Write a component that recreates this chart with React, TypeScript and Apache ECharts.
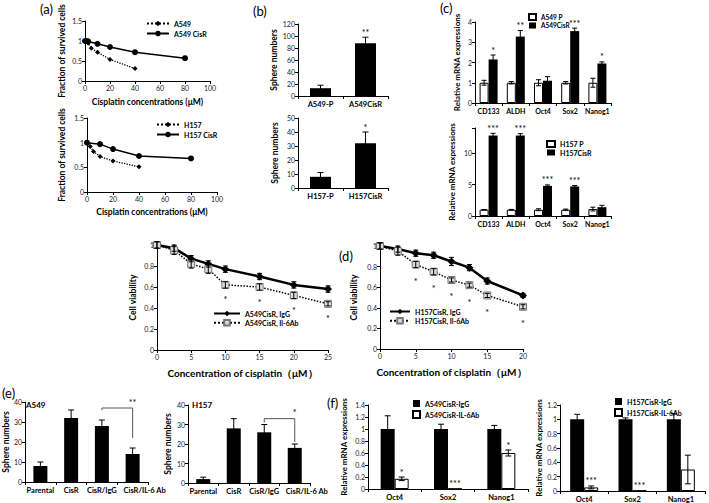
import React, { useEffect, useRef } from "react";
import * as echarts from "echarts";

const FONT = "Lato, 'Liberation Sans', sans-serif";

// ---------- (a) survival curves ----------
const aA549X = [0, 2.5, 5, 10, 20, 40];
const aA549Y = [1.0, 0.95, 0.82, 0.72, 0.54, 0.31];
const aA549RX = [0, 1, 2.5, 10, 20, 40, 80];
const aA549RY = [1.0, 1.0, 0.99, 0.93, 0.85, 0.72, 0.57];
const aH157X = [0, 2.5, 5, 10, 20, 40];
const aH157Y = [1.0, 0.92, 0.82, 0.72, 0.63, 0.51];
const aH157RX = [0, 10, 20, 40, 80];
const aH157RY = [1.0, 0.97, 0.87, 0.73, 0.68];

// ---------- (b) sphere numbers ----------
const bCatsA = ["A549-P", "A549CisR"];
const bValsA = [13, 88];
const bErrA = [5, 10];
const bSigA = ["", "**"];
const bCatsH = ["H157-P", "H157CisR"];
const bValsH = [8, 32];
const bErrH = [3, 8];
const bSigH = ["", "*"];

// ---------- (c) relative mRNA ----------
const cCats = ["CD133", "ALDH", "Oct4", "Sox2", "Nanog1"];
const cA549P = [1, 1, 1, 1, 1];
const cA549PErr = [0.12, 0.06, 0.15, 0.06, 0.22];
const cA549R = [2.15, 3.28, 1.1, 3.55, 1.95];
const cA549RErr = [0.22, 0.3, 0.2, 0.15, 0.08];
const cA549Sig = ["*", "**", "", "***", "*"];
const cH157P = [1, 1, 1, 1, 1.1];
const cH157PErr = [0.02, 0.05, 0.15, 0.1, 0.3];
const cH157R = [12.8, 12.8, 4.8, 4.7, 1.4];
const cH157RErr = [0.35, 0.3, 0.15, 0.15, 0.3];
const cH157Sig = ["***", "***", "***", "***", ""];

// ---------- (d) cell viability ----------
const dXA = [0, 2.5, 5, 7.5, 10, 15, 20, 25];
const dIgGA = [1.0, 0.97, 0.87, 0.82, 0.77, 0.7, 0.62, 0.58];
const dIgGAErr = [0.03, 0.03, 0.03, 0.03, 0.03, 0.03, 0.03, 0.03];
const dAbA = [1.0, 0.95, 0.82, 0.77, 0.62, 0.6, 0.52, 0.44];
const dAbAErr = [0.03, 0.04, 0.04, 0.04, 0.03, 0.03, 0.03, 0.02];
const dSigA = ["", "", "", "", "*", "*", "*", "*"];
const dXH = [0, 2.5, 5, 7.5, 10, 12.5, 15, 20];
const dIgGH = [1.0, 0.97, 0.93, 0.91, 0.85, 0.79, 0.66, 0.52];
const dIgGHErr = [0.03, 0.03, 0.03, 0.03, 0.04, 0.03, 0.03, 0.02];
const dAbH = [1.0, 0.95, 0.82, 0.75, 0.67, 0.62, 0.52, 0.41];
const dAbHErr = [0.03, 0.04, 0.03, 0.03, 0.02, 0.02, 0.02, 0.02];
const dSigH = ["", "", "*", "*", "*", "*", "*", "*"];

// ---------- (e) sphere numbers ----------
const eCats = ["Parental", "CisR", "CisR/IgG", "CisR/IL-6 Ab"];
const eA549 = [8, 32, 28, 14];
const eA549Err = [2, 4, 3, 3];
const eH157 = [2, 28, 26, 18];
const eH157Err = [1, 5, 4, 2];
// bracket: [fromCat, top, toCat, leftEnd, rightEnd]
const eBracketA = [2, 37, 3, 36, 22];
const eBracketH = [2, 33, 3, 31, 21];
const eBracketSigA = "**";
const eBracketSigH = "*";

// ---------- (f) relative mRNA ----------
const fCats = ["Oct4", "Sox2", "Nanog1"];
const fAIgG = [1, 1, 1];
const fAIgGErr = [0.22, 0.08, 0.06];
const fAAb = [0.17, 0.005, 0.6];
const fAAbErr = [0.03, 0, 0.05];
const fASig = ["*", "***", "*"];
const fHIgG = [1, 1, 1];
const fHIgGErr = [0.07, 0.02, 0.08];
const fHAb = [0.05, 0.005, 0.3];
const fHAbErr = [0.02, 0, 0.2];
const fHSig = ["***", "***", ""];

const axisCommon = {
  axisLine: { show: true, lineStyle: { color: "#000", width: 1 } },
  axisTick: { show: true, length: 3, lineStyle: { color: "#000" } },
  splitLine: { show: false },
};
const nameStyle = { color: "#000", fontSize: 8.5, fontWeight: "bold", fontFamily: FONT };
const numLabel = { color: "#222", fontSize: 7, fontFamily: FONT, margin: 3 };
const catLabel = { color: "#000", fontSize: 7.5, fontWeight: "bold", fontFamily: FONT, margin: 4, interval: 0 };

function valX(g: number, max: number, interval: number, name?: string, nameGap = 16, fs = 8.5) {
  return {
    type: "value", gridIndex: g, min: 0, max, interval, ...axisCommon,
    axisLabel: numLabel,
    name, nameLocation: "middle", nameGap,
    nameTextStyle: { ...nameStyle, fontSize: fs },
  };
}
function valY(g: number, max: number, interval: number, name: string, nameGap: number, fmt?: any, fs = 8.5) {
  return {
    type: "value", gridIndex: g, min: 0, max, interval, ...axisCommon,
    axisLabel: fmt ? { ...numLabel, formatter: fmt } : numLabel,
    name, nameLocation: "middle", nameGap, nameRotate: 90,
    nameTextStyle: { ...nameStyle, fontSize: fs },
  };
}
function catX(g: number, cats: any[], fs = 7.5) {
  return {
    type: "category", gridIndex: g, data: cats, ...axisCommon,
    axisTick: { show: true, length: 3, lineStyle: { color: "#000" } },
    axisLabel: { ...catLabel, fontSize: fs },
  };
}

function errSeries(g: number, xs: number[], vals: number[], errs: number[], dx = 0, cap = 3, color = "#000") {
  return {
    type: "custom", xAxisIndex: g, yAxisIndex: g, silent: true, z: 5,
    data: xs.map((x, i) => [x, vals[i], errs[i]]),
    encode: { x: 0, y: 1 },
    renderItem: (params: any, api: any) => {
      const x0 = api.value(0), v = api.value(1), e = api.value(2);
      if (!e) return { type: "group", children: [] };
      const p1 = api.coord([x0, v + e]);
      const p2 = api.coord([x0, v - e]);
      const x = p1[0] + dx;
      const st = { stroke: color, lineWidth: 1 };
      return {
        type: "group",
        children: [
          { type: "line", shape: { x1: x, y1: p1[1], x2: x, y2: p2[1] }, style: st },
          { type: "line", shape: { x1: x - cap, y1: p1[1], x2: x + cap, y2: p1[1] }, style: st },
          { type: "line", shape: { x1: x - cap, y1: p2[1], x2: x + cap, y2: p2[1] }, style: st },
        ],
      };
    },
  };
}

function marks(g: number, xs: number[], ys: number[], labels: string[], dx: number, dy: number, fs = 9) {
  return {
    type: "custom", xAxisIndex: g, yAxisIndex: g, silent: true, z: 6,
    data: xs.map((x, i) => [x, ys[i]]),
    encode: { x: 0, y: 1 },
    renderItem: (params: any, api: any) => {
      const p = api.coord([api.value(0), api.value(1)]);
      return {
        type: "text", x: p[0] + dx, y: p[1] + dy,
        style: {
          text: labels[params.dataIndex], fontSize: fs, fontFamily: FONT, fill: "#000",
          align: "center", verticalAlign: "middle", textAlign: "center", textVerticalAlign: "middle",
        },
      };
    },
  };
}

function bracket(g: number, b: number[], sig: string) {
  return {
    type: "custom", xAxisIndex: g, yAxisIndex: g, silent: true, z: 6,
    data: [b], encode: { x: 0, y: 1 },
    renderItem: (params: any, api: any) => {
      const a = api.coord([api.value(0), api.value(3)]);
      const bb = api.coord([api.value(0), api.value(1)]);
      const c = api.coord([api.value(2), api.value(1)]);
      const d = api.coord([api.value(2), api.value(4)]);
      return {
        type: "group",
        children: [
          { type: "polyline", shape: { points: [a, bb, c, d] }, style: { stroke: "#555", lineWidth: 1, fill: null } },
          {
            type: "text", x: c[0], y: c[1] - 6,
            style: { text: sig, fontSize: 9, fontFamily: FONT, fill: "#000", align: "center", verticalAlign: "middle", textAlign: "center", textVerticalAlign: "middle" },
          },
        ],
      };
    },
  };
}

const idx = (arr: any[]) => arr.map((_, i) => i);
const plus = (a: number[], b: number[]) => a.map((v, i) => v + b[i]);

const blackBar = { color: "#000" };
const whiteBar = { color: "#fff", borderColor: "#000", borderWidth: 1 };

function bar(name: string, g: number, vals: number[], w: number, style: any) {
  return { type: "bar", name, xAxisIndex: g, yAxisIndex: g, data: vals, barWidth: w, barGap: "0%", itemStyle: style, z: 3 };
}

function line(name: string, g: number, xs: number[], ys: number[], opts: any) {
  return { type: "line", name, xAxisIndex: g, yAxisIndex: g, data: xs.map((x, i) => [x, ys[i]]), z: 4, ...opts };
}

const legendText = { color: "#000", fontSize: 7, fontWeight: "bold", fontFamily: FONT };

// last (long) category label of (e) is shifted right, as in the figure
const eAxisData = eCats.map((c, i) => (i === eCats.length - 1 ? { value: c, textStyle: { padding: [0, 0, 0, 24] } } : c));

function buildOption() {
  const grid = [
    { left: 85, top: 21, width: 125, height: 60 },
    { left: 87, top: 118, width: 130, height: 74 },
    { left: 298, top: 24, width: 90, height: 72 },
    { left: 298, top: 118, width: 90, height: 70 },
    { left: 475, top: 22, width: 136, height: 81 },
    { left: 475, top: 128, width: 136, height: 88 },
    { left: 157, top: 245, width: 171, height: 105 },
    { left: 380, top: 246, width: 143, height: 103 },
    { left: 23, top: 402, width: 125, height: 80 },
    { left: 188, top: 405, width: 122, height: 78 },
    { left: 368, top: 405, width: 160, height: 84 },
    { left: 560, top: 405, width: 145, height: 86 },
  ];

  const xAxis = [
    valX(0, 100, 20, "Cisplatin concentrations (μM)", 16),
    valX(1, 100, 20, "Cisplatin concentrations (μM)", 15),
    catX(2, bCatsA),
    catX(3, bCatsH),
    catX(4, cCats, 7),
    catX(5, cCats, 7),
    valX(6, 25, 5, "Concentration of cisplatin（μM）", 18, 10),
    valX(7, 20, 5, "Concentration of cisplatin（μM）", 18, 10),
    catX(8, eAxisData, 7.5),
    catX(9, eAxisData, 7.5),
    catX(10, fCats, 7.5),
    catX(11, fCats, 7.5),
  ];

  const yAxis = [
    valY(0, 1.5, 0.5, "Fraction of survived cells", 19),
    valY(1, 1.5, 0.5, "Fraction of survived cells", 21),
    valY(2, 120, 20, "Sphere numbers", 19),
    valY(3, 50, 10, "Sphere numbers", 19),
    valY(4, 4, 1, "Relative mRNA expressions", 14, undefined, 8),
    valY(5, 14, 5, "Relative mRNA expressions", 19, (v: number) => (v % 5 === 0 ? String(v) : ""), 8),
    valY(6, 1, 0.2, "Cell viability", 20),
    valY(7, 1, 0.2, "Cell viability", 22),
    valY(8, 40, 10, "Sphere numbers", 14),
    valY(9, 40, 10, "Sphere numbers", 14),
    valY(10, 1.4, 0.2, "Relative mRNA expressions", 20, undefined, 8),
    valY(11, 1.2, 0.2, "Relative mRNA expressions", 17, undefined, 8),
  ];

  const dotted = { type: "dotted", width: 1.3, color: "#000" };
  const series: any[] = [
    // (a)
    line("A549", 0, aA549X, aA549Y, { symbol: "diamond", symbolSize: 5, itemStyle: { color: "#000" }, lineStyle: dotted }),
    line("A549 CisR", 0, aA549RX, aA549RY, { symbol: "circle", symbolSize: 6, itemStyle: { color: "#000" }, lineStyle: { width: 1.5, color: "#000" } }),
    line("H157", 1, aH157X, aH157Y, { symbol: "diamond", symbolSize: 5, itemStyle: { color: "#000" }, lineStyle: dotted }),
    line("H157 CisR", 1, aH157RX, aH157RY, { symbol: "circle", symbolSize: 6, itemStyle: { color: "#000" }, lineStyle: { width: 1.5, color: "#000" } }),
    // (b)
    bar("spheresA", 2, bValsA, 21, blackBar),
    errSeries(2, idx(bCatsA), bValsA, bErrA),
    marks(2, idx(bCatsA), plus(bValsA, bErrA), bSigA, 0, -5),
    bar("spheresH", 3, bValsH, 21, blackBar),
    errSeries(3, idx(bCatsH), bValsH, bErrH),
    marks(3, idx(bCatsH), plus(bValsH, bErrH), bSigH, 0, -5),
    // (c)
    bar("A549 P", 4, cA549P, 9, whiteBar),
    bar("A549CisR", 4, cA549R, 9, blackBar),
    errSeries(4, idx(cCats), cA549P, cA549PErr, -4.5, 2.5),
    errSeries(4, idx(cCats), cA549R, cA549RErr, 4.5, 2.5),
    marks(4, idx(cCats), plus(cA549R, cA549RErr), cA549Sig, 4.5, -5),
    bar("H157 P", 5, cH157P, 9, whiteBar),
    bar("H157CisR", 5, cH157R, 9, blackBar),
    errSeries(5, idx(cCats), cH157P, cH157PErr, -4.5, 2.5),
    errSeries(5, idx(cCats), cH157R, cH157RErr, 4.5, 2.5),
    marks(5, idx(cCats), plus(cH157R, cH157RErr), cH157Sig, 4.5, -5),
    // (d)
    errSeries(6, dXA, dIgGA, dIgGAErr, 0, 2.5),
    errSeries(6, dXA, dAbA, dAbAErr, 0, 2.5),
    line("A549CisR, IgG", 6, dXA, dIgGA, { symbol: "diamond", symbolSize: 8, itemStyle: { color: "#000" }, lineStyle: { width: 2.5, color: "#000" } }),
    line("A549CisR, Il-6Ab", 6, dXA, dAbA, { symbol: "rect", symbolSize: 7, itemStyle: { color: "#ddd", borderColor: "#777", borderWidth: 1 }, lineStyle: { type: "dotted", width: 1.5, color: "#000" } }),
    marks(6, dXA, dAbA, dSigA, 0, 15),
    errSeries(7, dXH, dIgGH, dIgGHErr, 0, 2.5),
    errSeries(7, dXH, dAbH, dAbHErr, 0, 2.5),
    line("H157CisR, IgG", 7, dXH, dIgGH, { symbol: "diamond", symbolSize: 8, itemStyle: { color: "#000" }, lineStyle: { width: 2.5, color: "#000" } }),
    line("H157CisR, Il-6Ab", 7, dXH, dAbH, { symbol: "rect", symbolSize: 7, itemStyle: { color: "#ddd", borderColor: "#777", borderWidth: 1 }, lineStyle: { type: "dotted", width: 1.5, color: "#000" } }),
    marks(7, dXH, dAbH, dSigH, 0, 17),
    // (e)
    bar("eA549", 8, eA549, 14, blackBar),
    errSeries(8, idx(eCats), eA549, eA549Err),
    bracket(8, eBracketA, eBracketSigA),
    bar("eH157", 9, eH157, 14, blackBar),
    errSeries(9, idx(eCats), eH157, eH157Err),
    bracket(9, eBracketH, eBracketSigH),
    // (f)
    bar("A549CisR-IgG", 10, fAIgG, 14, blackBar),
    bar("A549CisR-IL-6Ab", 10, fAAb, 14, whiteBar),
    errSeries(10, idx(fCats), fAIgG, fAIgGErr, -7),
    errSeries(10, idx(fCats), fAAb, fAAbErr, 7),
    marks(10, idx(fCats), plus(fAAb, fAAbErr), fASig, 7, -5),
    bar("H157CisR-IgG", 11, fHIgG, 14, blackBar),
    bar("H157CisR-IL-6Ab", 11, fHAb, 14, whiteBar),
    errSeries(11, idx(fCats), fHIgG, fHIgGErr, -7),
    errSeries(11, idx(fCats), fHAb, fHAbErr, 7),
    marks(11, idx(fCats), plus(fHAb, fHAbErr), fHSig, 7, -5),
  ];

  const lg = (data: string[], left: number, top: number, w: number, h: number, icon?: string, gap = 2, fs = 7) => ({
    data, left, top, orient: "vertical", itemWidth: w, itemHeight: h, itemGap: gap, padding: 0,
    textStyle: { ...legendText, fontSize: fs }, icon, selectedMode: false,
  });

  const legend = [
    lg(["A549", "A549 CisR"], 146, 20, 22, 7, undefined, 3),
    lg(["H157", "H157 CisR"], 156, 121, 22, 7, undefined, 3),
    lg(["A549 P", "A549CisR"], 528, 13, 7, 6, "rect", 1, 6.5),
    lg(["H157 P", "H157CisR"], 546, 140, 8, 6, "rect", 1),
    lg(["A549CisR, IgG", "A549CisR, Il-6Ab"], 213, 310, 26, 7, undefined, 2),
    lg(["H157CisR, IgG", "H157CisR, Il-6Ab"], 389, 308, 20, 7, undefined, 2),
    lg(["A549CisR-IgG", "A549CisR-IL-6Ab"], 412, 400, 7, 7, "rect", 3),
    lg(["H157CisR-IgG", "H157CisR-IL-6Ab"], 614, 398, 7, 7, "rect", 3),
  ];

  const t = (text: string, x: number, y: number, fs = 13, fw = "normal") => ({
    type: "text", x, y, style: { text, fontSize: fs, fontWeight: fw, fontFamily: FONT, fill: "#000" },
  });
  const graphic = [
    t("(a)", 40, 2),
    t("(b)", 253, 4),
    t("(c)", 440, 1),
    t("(d)", 339, 249),
    t("(e)", 2, 386),
    t("A549", 26, 401, 8, "bold"),
    t("H157", 192, 401, 8, "bold"),
    t("(f)", 327, 396),
  ];

  return {
    animation: false,
    backgroundColor: "#fff",
    textStyle: { fontFamily: FONT },
    grid, xAxis, yAxis, series, legend, graphic,
  };
}

export default function App() {
  const ref = useRef<HTMLDivElement>(null);
  useEffect(() => {
    if (!ref.current) return;
    const chart = echarts.init(ref.current, undefined, { renderer: "svg" });
    chart.setOption(buildOption() as any);
    return () => chart.dispose();
  }, []);
  return <div ref={ref} style={{ position: "fixed", left: 0, top: 0, width: 709, height: 503 }} />;
}
